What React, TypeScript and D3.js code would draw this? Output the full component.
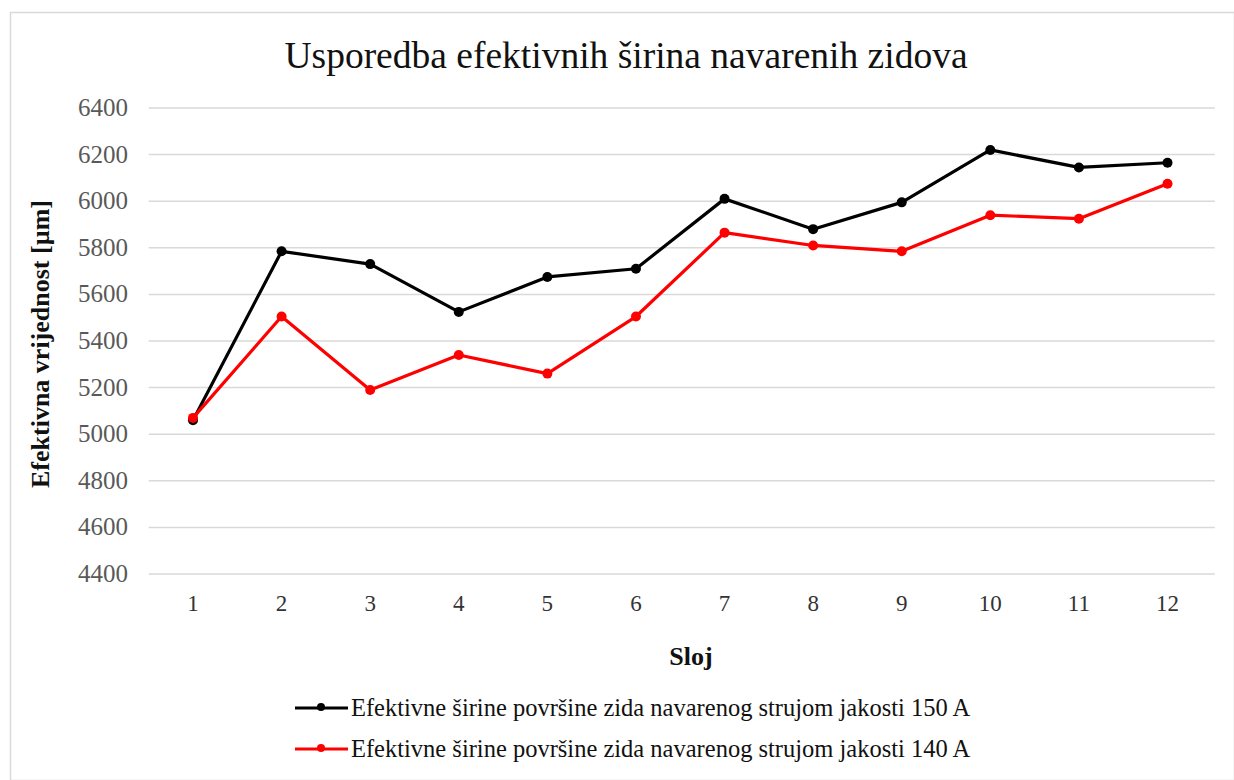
import React, { useRef, useEffect } from 'react';
import * as d3 from 'd3';

const layers = ['1', '2', '3', '4', '5', '6', '7', '8', '9', '10', '11', '12'];
const width150 = [5060, 5785, 5730, 5525, 5675, 5710, 6010, 5880, 5995, 6220, 6145, 6165];
const width140 = [5070, 5505, 5190, 5340, 5260, 5505, 5865, 5810, 5785, 5940, 5925, 6075];
const yTicks = [4400, 4600, 4800, 5000, 5200, 5400, 5600, 5800, 6000, 6200, 6400];

const seriesNames = [
  'Efektivne širine površine zida navarenog strujom jakosti 150 A',
  'Efektivne širine površine zida navarenog strujom jakosti 140 A',
];
const seriesColors = ['#000000', '#ff0000'];

const W = 1234;
const H = 780;
const FONT = "'Liberation Serif', 'DejaVu Serif', serif";

const App: React.FC = () => {
  const svgRef = useRef<SVGSVGElement | null>(null);

  useEffect(() => {
    if (!svgRef.current) return;
    const svg = d3.select(svgRef.current);
    svg.selectAll('*').remove();

    const plot = { left: 148.7, right: 1211.8, top: 108, bottom: 574 };

    const x = d3.scalePoint<string>()
      .domain(layers)
      .range([plot.left, plot.right])
      .padding(0.5);

    const y = d3.scaleLinear()
      .domain([4400, 6400])
      .range([plot.bottom, plot.top]);

    const txt = (sel: d3.Selection<SVGTextElement, any, any, any>) =>
      sel.style('font-family', FONT);

    // outer frame
    svg.append('rect')
      .attr('x', 10.5).attr('y', 12.5)
      .attr('width', W - 10).attr('height', H - 12)
      .attr('fill', 'white')
      .attr('stroke', '#d9d9d9')
      .attr('stroke-width', 1.5);

    // title
    svg.append('text')
      .attr('x', 626).attr('y', 68)
      .attr('text-anchor', 'middle')
      .attr('font-size', 37.5)
      .attr('fill', '#111')
      .text('Usporedba efektivnih širina navarenih zidova')
      .call(txt);

    // gridlines
    svg.append('g')
      .selectAll('line')
      .data(yTicks)
      .join('line')
      .attr('x1', plot.left).attr('x2', plot.right + 3)
      .attr('y1', d => y(d)).attr('y2', d => y(d))
      .attr('stroke', '#d9d9d9')
      .attr('stroke-width', 1.5);

    // y labels
    svg.append('g')
      .selectAll('text')
      .data(yTicks)
      .join('text')
      .attr('x', 128)
      .attr('y', d => y(d) + 8)
      .attr('text-anchor', 'end')
      .attr('font-size', 25)
      .attr('fill', '#595959')
      .style('font-family', FONT)
      .text(d => d);

    // x labels
    svg.append('g')
      .selectAll('text')
      .data(layers)
      .join('text')
      .attr('x', d => x(d)!)
      .attr('y', 611)
      .attr('text-anchor', 'middle')
      .attr('font-size', 23)
      .attr('fill', '#333')
      .style('font-family', FONT)
      .text(d => d);

    // axis titles
    svg.append('text')
      .attr('x', 691).attr('y', 665)
      .attr('text-anchor', 'middle')
      .attr('font-size', 26)
      .attr('font-weight', 'bold')
      .attr('fill', '#111')
      .text('Sloj')
      .call(txt);

    svg.append('text')
      .attr('transform', 'translate(49,344) rotate(-90)')
      .attr('text-anchor', 'middle')
      .attr('font-size', 26)
      .attr('font-weight', 'bold')
      .attr('fill', '#111')
      .text('Efektivna vrijednost [µm]')
      .call(txt);

    const line = d3.line<number>()
      .x((_, i) => x(layers[i])!)
      .y(d => y(d));

    [width150, width140].forEach((vals, si) => {
      const g = svg.append('g');
      g.append('path')
        .datum(vals)
        .attr('d', line)
        .attr('fill', 'none')
        .attr('stroke', seriesColors[si])
        .attr('stroke-width', 3.2)
        .attr('stroke-linejoin', 'round');
      g.selectAll('circle')
        .data(vals)
        .join('circle')
        .attr('cx', (_, i) => x(layers[i])!)
        .attr('cy', d => y(d))
        .attr('r', 5)
        .attr('fill', seriesColors[si]);
    });

    // legend
    const legendY = [708, 749];
    seriesNames.forEach((name, i) => {
      const g = svg.append('g').attr('transform', `translate(295,${legendY[i]})`);
      g.append('line')
        .attr('x1', 0).attr('x2', 53)
        .attr('y1', 0).attr('y2', 0)
        .attr('stroke', seriesColors[i])
        .attr('stroke-width', 3.2);
      g.append('circle')
        .attr('cx', 26).attr('cy', -1).attr('r', 4)
        .attr('fill', seriesColors[i]);
      g.append('text')
        .attr('x', 56).attr('y', 8)
        .attr('font-size', 24.5)
        .attr('fill', '#111')
        .style('font-family', FONT)
        .text(name);
    });
  }, []);

  return (
    <svg
      ref={svgRef}
      width={W}
      height={H}
      style={{ position: 'absolute', left: 0, top: 0 }}
    />
  );
};

export default App;
